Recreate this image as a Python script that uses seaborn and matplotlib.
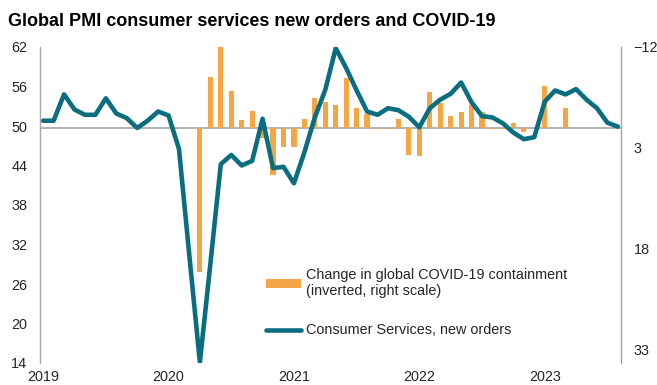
import numpy as np
import pandas as pd
import matplotlib
matplotlib.use("Agg")
import matplotlib.pyplot as plt
from matplotlib.patches import Patch
from matplotlib.lines import Line2D
import seaborn as sns

# Monthly series, Jan 2019 - Aug 2023 (index 0..55)
month_index = list(range(56))

# Global PMI consumer services new orders index (left scale)
new_orders = [
    50.8, 50.8, 54.8, 52.5, 51.7, 51.7, 54.2, 51.9, 51.2, 49.7, 50.8, 52.2,
    51.6, 46.5, 30.2, 14.1, 29.0, 44.2, 45.6, 44.0, 44.7, 51.1, 43.6, 43.8,
    41.3, 46.0, 51.3, 55.5, 61.8, 58.8, 55.4, 52.2, 51.7, 52.7, 52.4, 51.4,
    49.8, 52.7, 54.0, 54.9, 56.6, 53.6, 51.5, 51.3, 50.4, 49.0, 48.0, 48.3,
    53.7, 55.4, 54.8, 55.6, 54.0, 52.7, 50.5, 49.9,
]

# Change in global COVID-19 containment index (right scale, inverted)
containment_change = [
    0, 0, 0, 0, 0, 0, 0, 0, 0, 0, 0, 0,
    0, 0, 0, 21.4, -7.6, -12.0, -5.4, -1.1, -2.5, 1.6, 7.0, 2.8,
    2.9, -1.3, -4.4, -3.8, -3.3, -7.4, -2.9, -2.0, 0.2, 0.2, -1.3, 4.0,
    4.2, -5.3, -3.7, -1.7, -2.3, -3.3, -2.4, 0.2, 0.2, -0.7, 0.6, 0,
    -6.2, 0, -2.9, 0, 0, 0, 0, 0,
]

year_ticks = [0, 12, 24, 36, 48]
year_labels = ["2019", "2020", "2021", "2022", "2023"]
left_ticks = [14, 20, 26, 32, 38, 44, 50, 56, 62]
right_ticks = [-12, 3, 18, 33]

title = "Global PMI consumer services new orders and COVID-19"
bar_label = "Change in global COVID-19 containment\n(inverted, right scale)"
line_label = "Consumer Services, new orders"

TEAL = "#0b6e80"
ORANGE = "#f4a647"
GRID_GREY = "#a6a6a6"
TEXT = "#262626"
FS = 10.4

sns.set_theme(style="white")
plt.rcParams["font.family"] = ["Liberation Sans", "DejaVu Sans"]

df = pd.DataFrame({"month": month_index, "orders": new_orders,
                   "containment": containment_change})

fig = plt.figure(figsize=(6.57, 3.85), dpi=100)
ax = fig.add_axes([40 / 657, 1 - 363 / 385, (621 - 40) / 657, (363 - 47) / 385])
ax2 = ax.twinx()

# bars on the secondary (inverted) axis
sns.barplot(data=df, x="month", y="containment", ax=ax2, native_scale=True,
            color=ORANGE, saturation=1, width=0.5, errorbar=None,
            linewidth=0, edgecolor="none", zorder=2)
ax2.axhline(0, color=GRID_GREY, lw=1.2, zorder=1)

# PMI line on the primary axis, drawn above the bars
sns.lineplot(data=df, x="month", y="orders", ax=ax, color=TEAL, linewidth=3.3,
             solid_joinstyle="round")

ax.set_zorder(ax2.get_zorder() + 1)
ax.patch.set_visible(False)

ax.set_xlim(-0.3, 55.3)
ax.set_ylim(14, 62)
ax.set_yticks(left_ticks)
ax.set_xticks(year_ticks)
ax.set_xticklabels(year_labels)
ax2.set_ylim(35, -12)
ax2.set_yticks(right_ticks)

for a in (ax, ax2):
    a.set_xlabel("")
    a.set_ylabel("")
    a.tick_params(length=0, labelsize=FS, colors=TEXT)
    for s in a.spines.values():
        s.set_visible(False)
ax.tick_params(axis="y", pad=9)
ax.tick_params(axis="x", pad=5)
ax2.tick_params(axis="y", pad=9)
ax.spines["left"].set_visible(True)
ax.spines["left"].set_color(GRID_GREY)
ax.spines["left"].set_linewidth(1.0)
ax2.spines["right"].set_visible(True)
ax2.spines["right"].set_color(GRID_GREY)
ax2.spines["right"].set_linewidth(1.0)

handles = [Patch(facecolor=ORANGE, edgecolor="none"),
           Line2D([], [], color=TEAL, lw=3.3)]
ax.legend(handles, [bar_label, line_label], loc="upper left",
          bbox_to_anchor=(266 / 657, 1 - 268 / 385), bbox_transform=fig.transFigure,
          frameon=False, borderpad=0, borderaxespad=0, handlelength=2.45,
          handleheight=0.6, handletextpad=0.33, labelspacing=1.75, fontsize=FS,
          labelcolor=TEXT)

fig.text(8 / 657, 1 - 22 / 385, title, fontsize=13, fontweight="bold",
         color="black", ha="left", va="center")

fig.savefig("out.png", dpi=100)
